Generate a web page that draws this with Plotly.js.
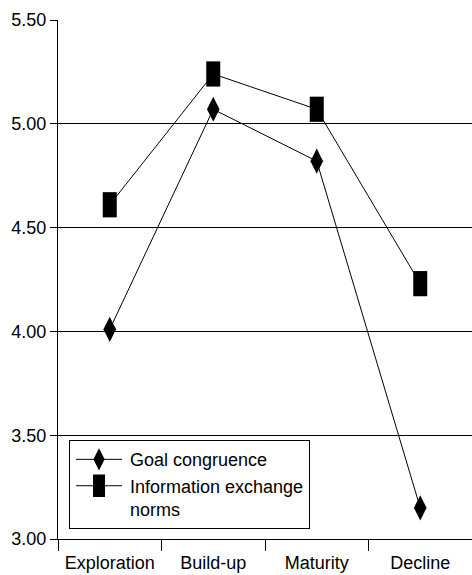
<!DOCTYPE html>
<html>
<head>
<meta charset="utf-8">
<script src="https://cdn.plot.ly/plotly-3.0.1.min.js"></script>
<style>html,body{margin:0;padding:0;background:#fff;}</style>
</head>
<body>
<div id="chart" style="width:472px;height:575px;"></div>
<script>
var stages = ["Exploration", "Build-up", "Maturity", "Decline"];
var goalCongruence = [4.01, 5.07, 4.82, 3.15];
var infoExchange = [4.61, 5.24, 5.07, 4.23];
var yTicks = [3.0, 3.5, 4.0, 4.5, 5.0, 5.5];

var font = "Liberation Sans, Arial, sans-serif";

var traces = [
  {
    x: stages, y: goalCongruence, type: "scatter", mode: "lines+markers",
    name: "Goal congruence",
    line: {color: "#000", width: 1},
    marker: {symbol: "diamond-tall", size: 18, color: "#000"}
  },
  {
    x: stages, y: infoExchange, type: "scatter", mode: "lines+markers",
    name: "Information exchange<br>norms",
    line: {color: "#000", width: 1},
    marker: {symbol: "line-ns", size: 18, color: "#000", line: {color: "#000", width: 14}}
  }
];

var layout = {
  width: 472, height: 575,
  margin: {l: 58, r: 0, t: 20, b: 36},
  paper_bgcolor: "#fff", plot_bgcolor: "#fff",
  font: {family: font, size: 18, color: "#000"},
  showlegend: true,
  legend: {
    x: 0.0266, y: 0.019, xanchor: "left", yanchor: "bottom",
    bgcolor: "#fff", bordercolor: "#000", borderwidth: 1,
    font: {family: font, size: 18, color: "#000"},
    valign: "top", itemwidth: 50, tracegroupgap: 0
  },
  xaxis: {
    type: "category", range: [-0.5, 3.5],
    tickson: "boundaries", ticks: "outside", ticklen: 11, tickwidth: 1, tickcolor: "#000",
    ticklabelstandoff: 7,
    showgrid: false, zeroline: false,
    showline: true, linecolor: "#000", linewidth: 1,
    tickfont: {family: font, size: 18, color: "#000"}
  },
  yaxis: {
    range: [3.0, 5.5], tickvals: yTicks, tickformat: ".2f",
    ticks: "outside", ticklen: 7, tickwidth: 1, tickcolor: "#000",
    showgrid: true, gridcolor: "#000", gridwidth: 1,
    showline: true, linecolor: "#000", linewidth: 1,
    zeroline: false,
    tickfont: {family: font, size: 18, color: "#000"}
  }
};

Plotly.newPlot("chart", traces, layout, {displayModeBar: false, staticPlot: true}).then(function (gd) {
  // widen the legend line samples and enlarge the legend square symbol
  var items = gd.querySelectorAll(".legend .traces");
  items.forEach(function (item, i) {
    var ln = item.querySelector(".legendlines path");
    if (ln) ln.setAttribute("d", "M6,0h46");
    var pts = item.querySelectorAll(".legendpoints path");
    pts.forEach(function (p) {
      p.setAttribute("transform", "translate(29,0)");
      if (i === 1) p.style.strokeWidth = "12px";
    });
  });
});
</script>
</body>
</html>
